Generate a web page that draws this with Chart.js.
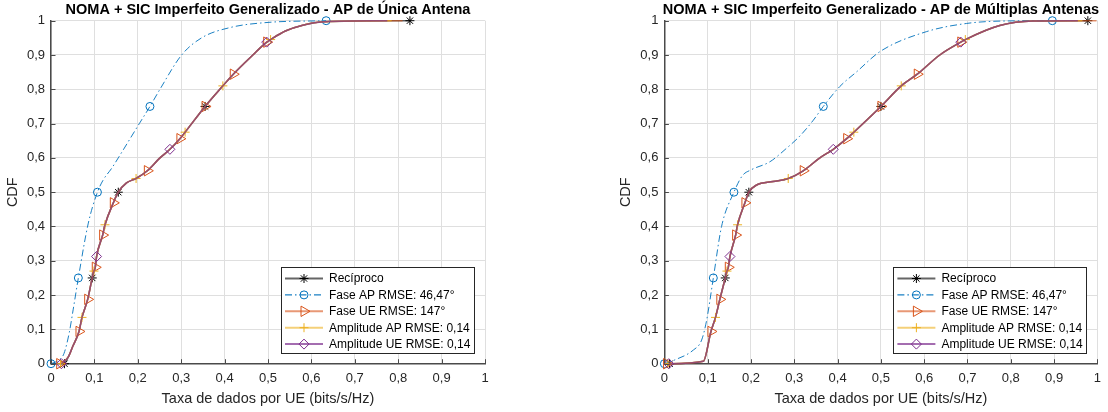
<!DOCTYPE html>
<html>
<head>
<meta charset="utf-8">
<title>CDF - NOMA + SIC imperfeito</title>
<script src="https://cdn.jsdelivr.net/npm/chart.js"></script>
<style>
  html, body { margin: 0; background: #fff; }
  #wrap { position: relative; width: 1108px; height: 412px; overflow: hidden; }
  .panel { position: absolute; top: 0; width: 554px; height: 412px; }
</style>
</head>
<body>
<div id="wrap">
  <div class="panel" style="left:0"><canvas id="unica"></canvas></div>
  <div class="panel" style="left:554px"><canvas id="multi"></canvas></div>
</div>
<script>
const FONT = "'Liberation Sans', Arial, Helvetica, sans-serif";

const tickLabels = ['0', '0,1', '0,2', '0,3', '0,4', '0,5', '0,6', '0,7', '0,8', '0,9', '1'];
const names = ['Recíproco', 'Fase AP RMSE: 46,47°', 'Fase UE RMSE: 147°', 'Amplitude AP RMSE: 0,14', 'Amplitude UE RMSE: 0,14'];
const titles = ['NOMA + SIC Imperfeito Generalizado - AP de Única Antena',
                'NOMA + SIC Imperfeito Generalizado - AP de Múltiplas Antenas'];

// CDF levels where each curve carries a marker
const marksRec = [0, 0.25, 0.5, 0.75, 1];
const marksFaseAP = [0, 0.25, 0.5, 0.75, 1];
const marksFaseUE = [0, 0.094, 0.1875, 0.281, 0.375, 0.469, 0.5625, 0.656, 0.75, 0.844, 0.9375];
const marksAmpAP = [0, 0.135, 0.27, 0.405, 0.54, 0.675, 0.81, 0.945];
const marksAmpUE = [0, 0.3125, 0.625, 0.9375];

// AP de única antena, [taxa, cdf]
// Recíproco / Fase UE / Amplitude AP / Amplitude UE practically coincide
const unicaSolid = [[0.04, 0.02], [0.05, 0.05], [0.0645, 0.094], [0.0714, 0.135], [0.0845, 0.1875],
  [0.095, 0.25], [0.099, 0.27], [0.102, 0.281], [0.105, 0.3125], [0.119, 0.375], [0.1244, 0.405],
  [0.1436, 0.469], [0.155, 0.5], [0.174, 0.527], [0.196, 0.54], [0.222, 0.5625], [0.251, 0.6],
  [0.274, 0.625], [0.297, 0.656], [0.309, 0.675], [0.355, 0.75], [0.396, 0.81], [0.42, 0.844],
  [0.465, 0.9], [0.497, 0.9375], [0.506, 0.945], [0.54, 0.97], [0.58, 0.987], [0.63, 0.997]];
const unicaFaseAP = [[0, 0], [0.02, 0.012], [0.03, 0.03], [0.042, 0.09], [0.051, 0.157], [0.063, 0.25],
  [0.086, 0.41], [0.107, 0.5], [0.12, 0.535], [0.14, 0.57], [0.155, 0.6], [0.2035, 0.7], [0.228, 0.75],
  [0.251, 0.8], [0.301, 0.9], [0.347, 0.95], [0.4125, 0.98], [0.5, 0.995], [0.634, 1]];
const unicaStart = [0.031, 0.02, 0.022, 0.024];   // Recíproco, Fase UE, Amp. AP, Amp. UE
const unicaEnd = [0.827, 0.81, 0.785, 0.775];

// AP de múltiplas antenas
const multiSolid = [[0.09, 0.007], [0.1075, 0.094], [0.118, 0.135], [0.128, 0.1875], [0.1406, 0.25],
  [0.1445, 0.27], [0.1476, 0.281], [0.1514, 0.3125], [0.1645, 0.375], [0.169, 0.405], [0.186, 0.469],
  [0.195, 0.5], [0.213, 0.521], [0.251, 0.531], [0.286, 0.54], [0.3206, 0.5625], [0.359, 0.6],
  [0.39, 0.625], [0.421, 0.656], [0.4375, 0.675], [0.5, 0.75], [0.547, 0.81], [0.584, 0.844],
  [0.636, 0.9], [0.6845, 0.9375], [0.695, 0.945], [0.7745, 0.986], [0.851, 0.999]];
const multiFaseAP = [[0, 0], [0.024, 0.011], [0.067, 0.04], [0.086, 0.069], [0.0976, 0.127], [0.113, 0.25],
  [0.132, 0.4], [0.1606, 0.5], [0.18, 0.548], [0.2, 0.565], [0.244, 0.589], [0.282, 0.628], [0.313, 0.664],
  [0.344, 0.71], [0.367, 0.75], [0.405, 0.808], [0.444, 0.851], [0.498, 0.91], [0.605, 0.968],
  [0.698, 0.992], [0.78, 0.999], [0.896, 1]];
const multiStart = [0.012, 0.005, 0.008, 0.01];
const multiEnd = [0.978, 0.998, 0.965, 0.955];

const styles = [
  { line: 'rgba(0,0,0,0.6)', mark: '#000000', pointStyle: 'star', radius: 4.5 },
  { line: 'rgba(0,114,189,0.9)', mark: '#0072BD', pointStyle: 'circle', radius: 4, dash: [7, 3, 1.5, 3], width: 1 },
  { line: 'rgba(217,83,25,0.6)', mark: '#D95319', pointStyle: 'triangle', rotation: 90, radius: 6 },
  { line: 'rgba(237,177,32,0.6)', mark: '#EDB120', pointStyle: 'cross', radius: 4.5 },
  { line: 'rgba(126,47,142,0.7)', mark: '#7E2F8E', pointStyle: 'rectRot', radius: 5 }
];
const allMarks = [marksRec, marksFaseAP, marksFaseUE, marksAmpAP, marksAmpUE];

const pts = arr => arr.map(([x, y]) => ({ x, y }));

function buildDatasets(solid, faseAP, start, end) {
  const solidCurve = k => pts([[start[k], 0], ...solid, [end[k], 1]]);
  const curves = [solidCurve(0), pts(faseAP), solidCurve(1), solidCurve(2), solidCurve(3)];
  return curves.map((data, i) => {
    const st = styles[i], marks = allMarks[i];
    return {
      label: names[i],
      data,
      borderColor: st.line,
      borderWidth: st.width || 1.5,
      borderDash: st.dash || [],
      cubicInterpolationMode: 'monotone',
      pointStyle: st.pointStyle,
      rotation: st.rotation || 0,
      pointBorderColor: st.mark,
      pointBackgroundColor: 'rgba(0,0,0,0)',
      pointBorderWidth: 1,
      pointRadius: ctx => (ctx.raw && marks.some(m => Math.abs(m - ctx.raw.y) < 1e-6)) ? st.radius : 0,
      clip: false,
      order: 5 - i
    };
  });
}

// title, inward ticks and the boxed legend in the lower right corner
function figurePlugin(title) {
  return {
    id: 'figure',
    afterDraw(chart) {
      const { ctx, chartArea: a, scales } = chart;
      ctx.save();

      ctx.strokeStyle = '#4a4a4a';
      ctx.lineWidth = 1;
      ctx.beginPath();
      scales.x.ticks.forEach(t => {
        const px = Math.round(scales.x.getPixelForValue(t.value)) + 0.5;
        ctx.moveTo(px, a.bottom); ctx.lineTo(px, a.bottom - 4.5);
      });
      scales.y.ticks.forEach(t => {
        const py = Math.round(scales.y.getPixelForValue(t.value)) + 0.5;
        ctx.moveTo(a.left, py); ctx.lineTo(a.left + 4.5, py);
      });
      ctx.stroke();

      ctx.fillStyle = '#000';
      ctx.font = 'bold 14.5px ' + FONT;
      ctx.textAlign = 'center';
      ctx.textBaseline = 'middle';
      ctx.fillText(title, (a.left + a.right) / 2, 10);

      const w = 193, h = 86;
      const bx = a.right - 11 - w, by = a.bottom - 10.7 - h;
      ctx.fillStyle = '#fff';
      ctx.fillRect(bx, by, w, h);
      ctx.strokeStyle = '#262626';
      ctx.lineWidth = 1;
      ctx.strokeRect(Math.round(bx) + 0.5, Math.round(by) + 0.5, w, h);

      ctx.font = '12px ' + FONT;
      ctx.textAlign = 'left';
      chart.data.datasets.forEach((ds, i) => {
        const st = styles[i];
        const cy = by + 11.5 + i * 16.4;
        ctx.strokeStyle = st.line;
        ctx.lineWidth = st.width ? 1.2 : 2;
        ctx.setLineDash(st.dash || []);
        ctx.beginPath();
        ctx.moveTo(bx + 4, cy); ctx.lineTo(bx + 42, cy);
        ctx.stroke();
        ctx.setLineDash([]);
        ctx.strokeStyle = st.mark;
        ctx.fillStyle = 'rgba(0,0,0,0)';
        ctx.lineWidth = 1;
        Chart.helpers.drawPoint(ctx, { pointStyle: st.pointStyle, rotation: st.rotation || 0, radius: st.radius, borderWidth: 1 }, bx + 23, cy);
        ctx.fillStyle = '#000';
        ctx.fillText(ds.label, bx + 48, cy + 0.5);
      });
      ctx.restore();
    }
  };
}

function axisOpts(titleText, isX) {
  return {
    type: 'linear',
    min: 0,
    max: 1,
    afterFit: s => { if (isX) s.height = 48.3; else s.width = 51; },
    ticks: {
      stepSize: 0.1, autoSkip: false, maxRotation: 0,
      padding: isX ? 7 : 6,
      color: '#262626',
      font: { family: FONT, size: 13 },
      callback: (v, i) => tickLabels[i]
    },
    grid: { color: '#dfdfdf', lineWidth: 1, drawTicks: false },
    border: { color: '#4a4a4a', width: 1.5 },
    title: {
      display: true, text: titleText, color: '#262626',
      font: { family: FONT, size: 14.5 },
      padding: isX ? { top: 0, bottom: 4 } : { top: 4, bottom: 0 }
    }
  };
}

function makeChart(id, datasets, title, padLeft, padRight) {
  return new Chart(document.getElementById(id), {
    type: 'line',
    data: { datasets },
    options: {
      responsive: true,
      maintainAspectRatio: false,
      animation: false,
      events: [],
      layout: { padding: { left: padLeft, right: padRight, top: 20.7, bottom: 0 } },
      plugins: { legend: { display: false }, tooltip: { enabled: false } },
      scales: {
        x: axisOpts('Taxa de dados por UE (bits/s/Hz)', true),
        y: axisOpts('CDF', false)
      }
    },
    plugins: [figurePlugin(title)]
  });
}

makeChart('unica', buildDatasets(unicaSolid, unicaFaseAP, unicaStart, unicaEnd), titles[0], 0, 69);
makeChart('multi', buildDatasets(multiSolid, multiFaseAP, multiStart, multiEnd), titles[1], 59.4, 10.3);
</script>
</body>
</html>
